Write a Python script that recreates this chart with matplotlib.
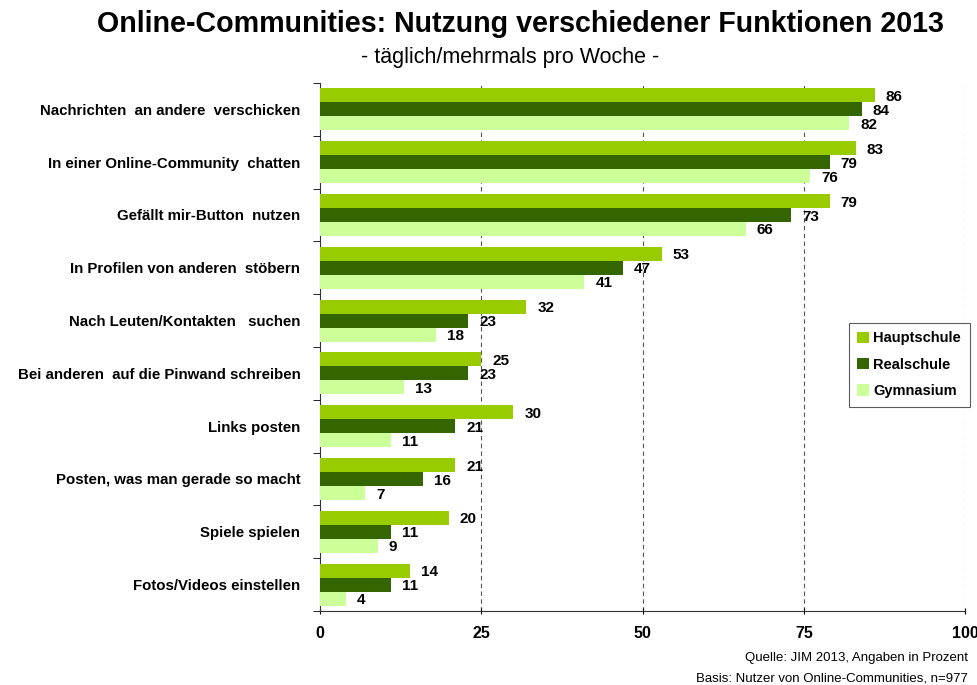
import numpy as np
import matplotlib.pyplot as plt
from matplotlib.ticker import FixedLocator

plt.rcParams['font.family'] = ['Liberation Sans', 'DejaVu Sans']

categories = [
    "Nachrichten  an andere  verschicken",
    "In einer Online-Community  chatten",
    "Gefällt mir-Button  nutzen",
    "In Profilen von anderen  stöbern",
    "Nach Leuten/Kontakten   suchen",
    "Bei anderen  auf die Pinwand schreiben",
    "Links posten",
    "Posten, was man gerade so macht",
    "Spiele spielen",
    "Fotos/Videos einstellen",
]
series_names = ["Hauptschule", "Realschule", "Gymnasium"]
hauptschule = [86, 83, 79, 53, 32, 25, 30, 21, 20, 14]
realschule = [84, 79, 73, 47, 23, 23, 21, 16, 11, 11]
gymnasium = [82, 76, 66, 41, 18, 13, 11, 7, 9, 4]
colors = ["#99cc00", "#336600", "#ccff99"]

fig = plt.figure(figsize=(9.78, 6.85), dpi=100)
ax = fig.add_axes([0.327, 0.108, 0.66, 0.771])

n = len(categories)
y = np.arange(n)
h = 0.265
offsets = [-h, 0, h]
for vals, off, col, name in zip([hauptschule, realschule, gymnasium], offsets, colors, series_names):
    ax.barh(y + off, vals, height=h, color=col, label=name, zorder=3)
    for yi, v in zip(y, vals):
        ax.text(v + 1.7, yi + off + 0.03, str(v), va="center", ha="left",
                fontsize=11, fontweight="bold", zorder=4)

ax.set_ylim(n - 0.5, -0.5)
ax.set_xlim(0, 100)
ax.set_yticks(y)
ax.set_yticklabels(categories, fontsize=10.8, fontweight="bold")
ax.yaxis.set_minor_locator(FixedLocator(np.arange(-0.5, n, 1)))
ax.tick_params(axis="y", which="major", length=0, pad=14)
ax.tick_params(axis="y", which="minor", length=5, direction="out")
ax.set_xticks([0, 25, 50, 75, 100])
ax.set_xticklabels(["0", "25", "50", "75", "100"], fontsize=11.5, fontweight="bold")
ax.tick_params(axis="x", length=5, direction="inout", pad=8)

for xv in [25, 50, 75, 100]:
    ax.axvline(xv, color="#555555", linestyle=(0, (4, 3)), linewidth=0.8, zorder=1)

for s in ["top", "right"]:
    ax.spines[s].set_visible(False)
ax.spines["left"].set_color("#333333")
ax.spines["bottom"].set_color("#333333")

leg = ax.legend(loc="upper left", bbox_to_anchor=(0.808, 0.56),
                prop={"weight": "bold", "size": 10.5}, frameon=True, fancybox=False,
                edgecolor="#333333", handlelength=0.8, handleheight=0.8,
                handletextpad=0.3, labelspacing=0.85, borderpad=0.6)
leg.get_frame().set_linewidth(0.8)

fig.text(0.532, 0.965, "Online-Communities: Nutzung verschiedener Funktionen 2013",
         ha="center", va="center", fontsize=20.6, fontweight="bold")
fig.text(0.522, 0.916, "- täglich/mehrmals pro Woche -", ha="center", va="center", fontsize=15.5)
fig.text(0.99, 0.04, "Quelle: JIM 2013, Angaben in Prozent", ha="right", va="center", fontsize=9.5)
fig.text(0.99, 0.01, "Basis: Nutzer von Online-Communities, n=977", ha="right", va="center", fontsize=9.5)

plt.savefig("out.png", dpi=100, facecolor="white")
